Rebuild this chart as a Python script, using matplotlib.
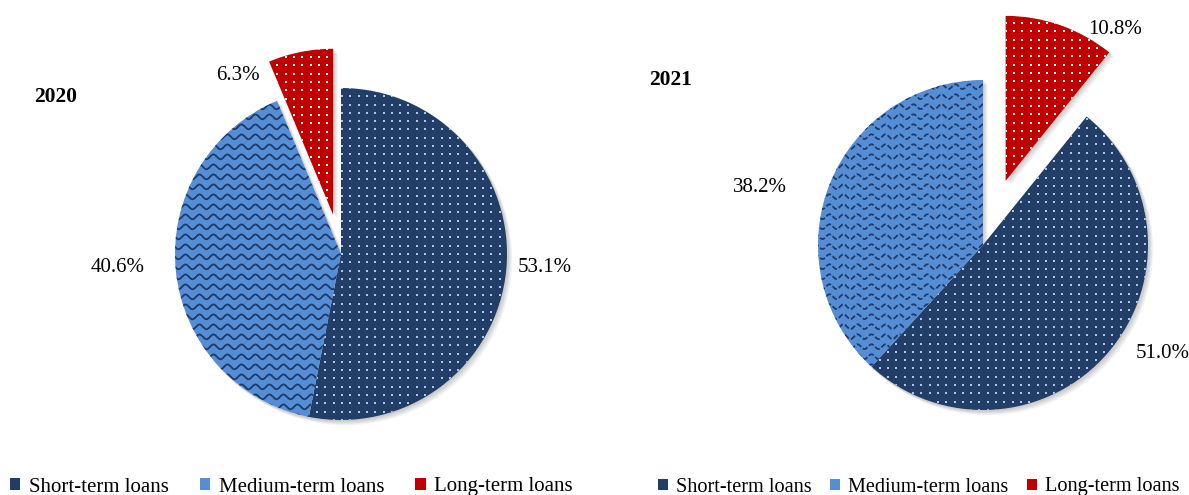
import numpy as np
import matplotlib.pyplot as plt
from matplotlib.patches import Wedge, Patch

plt.rcParams['font.family'] = ['Liberation Serif', 'DejaVu Serif']

loan_types = ["Short-term loans", "Medium-term loans", "Long-term loans"]
years = ["2020", "2021"]
shares_2020 = [53.1, 40.6, 6.3]
shares_2021 = [51.0, 38.2, 10.8]

fill_colors = ["#233E66", "#558ED5", "#C00000"]
dot_colors = ["#A9C6EE", None, "#FFFFFF"]
wave_color = "#1E3A6A"

W, H = 1189, 495
fig = plt.figure(figsize=(W / 100, H / 100), dpi=100)
ax = fig.add_axes([0, 0, 1, 1])


def add_dots(ax, wedge, color, step=8.3, size=2.6):
    (x0, y0), (x1, y1) = wedge.get_path().get_extents(wedge.get_patch_transform()).get_points()
    gx, gy = np.meshgrid(np.arange(x0 - step, x1 + step, step),
                         np.arange(y0 - step, y1 + step, step))
    pts = ax.scatter(gx.ravel(), gy.ravel(), s=size, marker='s', c=color,
                     linewidths=0, zorder=3)
    pts.set_clip_path(wedge)


def add_waves(ax, wedge, step=10, period=14, amp=2.4, lw=1.3, dashed=False):
    (x0, y0), (x1, y1) = wedge.get_path().get_extents(wedge.get_patch_transform()).get_points()
    xs = np.linspace(x0 - 10, x1 + 10, 600)
    for yb in np.arange(y0 - step, y1 + step, step):
        ys = yb + amp * np.sin(2 * np.pi * xs / period)
        line, = ax.plot(xs, ys, color=wave_color, lw=lw, zorder=3,
                        ls=(0, (3, 1.2)) if dashed else '-')
        line.set_clip_path(wedge)


def draw_pie(ax, shares, center, radius, startangle, explode, dashed_waves):
    wedges, _ = ax.pie(shares, center=center, radius=radius, startangle=startangle,
                       counterclock=False, explode=explode, colors=fill_colors,
                       wedgeprops=dict(linewidth=0, zorder=2), frame=True)
    # soft drop shadow under the slices
    for w in wedges:
        for k in range(1, 7):
            sh = Wedge((w.center[0] + 0.8 * k, w.center[1] - 0.8 * k), w.r + 0.5,
                       w.theta1, w.theta2, facecolor='black', alpha=0.035,
                       linewidth=0, zorder=1)
            ax.add_patch(sh)
    add_dots(ax, wedges[0], dot_colors[0])
    add_waves(ax, wedges[1], dashed=dashed_waves)
    add_dots(ax, wedges[2], dot_colors[2], size=3.0)
    return wedges


draw_pie(ax, shares_2020, (341, H - 254), 166, 90, [0, 0, 40], False)
draw_pie(ax, shares_2021, (983, H - 245), 165, 90 - 3.6 * shares_2021[2], [0, 0, 68], True)

ax.set_xlim(0, W)
ax.set_ylim(0, H)
ax.set_aspect('equal')
ax.axis('off')

# percentage labels
label_pos_2020 = [(545, 268), (118, 268), (238, 75)]
label_pos_2021 = [(1163, 354), (760, 187), (1115, 30)]
for shares, positions in [(shares_2020, label_pos_2020), (shares_2021, label_pos_2021)]:
    for v, (x, y) in zip(shares, positions):
        ax.text(x, H - y, f"{v:.1f}%", fontsize=15, ha='center', va='center')

ax.text(56, H - 97, years[0], fontsize=15.5, fontweight='bold', ha='center', va='center')
ax.text(671, H - 80, years[1], fontsize=15.5, fontweight='bold', ha='center', va='center')

handles = [Patch(facecolor=c, edgecolor='none') for c in fill_colors]
for x0, fs, colsp in [(10, 15, 1.5), (658, 14.6, 0.9)]:
    fig.legend(handles, loan_types, ncol=3, loc='center left',
               bbox_to_anchor=(x0 / W, 8 / H), frameon=False, fontsize=fs,
               handlelength=0.5, handleheight=0.5, handletextpad=0.4,
               columnspacing=colsp, borderpad=0, borderaxespad=0)

fig.savefig("out.png", dpi=100)
